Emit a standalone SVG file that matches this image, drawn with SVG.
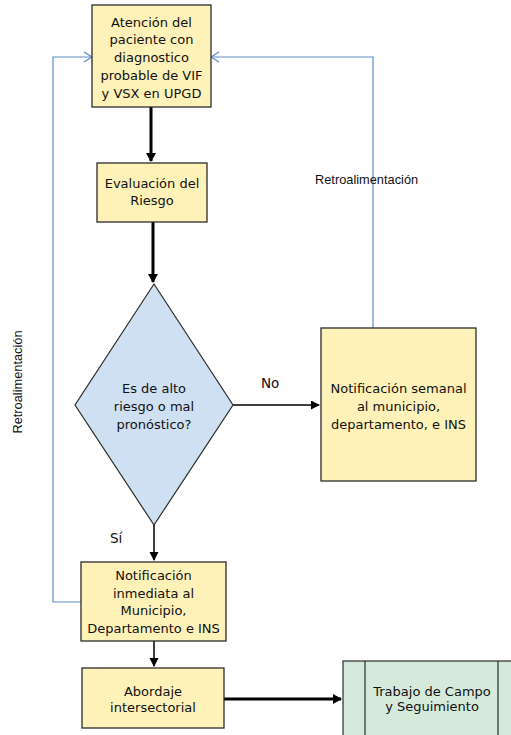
<svg xmlns="http://www.w3.org/2000/svg" width="511" height="735" viewBox="0 0 511 735">
<defs>
<style>
.box{fill:#fff2b8;stroke:#2b2b2b;stroke-width:1.3}
.dia{fill:#cfe0f2;stroke:#2b2b2b;stroke-width:1.2}
.grn{fill:#d6eadb;stroke:#2b2b2b;stroke-width:1.2}
.t{font-family:"DejaVu Sans",Verdana,sans-serif;font-size:13px;fill:#111;text-anchor:middle}
.lbl{font-family:"DejaVu Sans",Verdana,sans-serif;font-size:13.5px;fill:#111}
.small{font-family:"Liberation Sans",Arial,sans-serif;font-size:12.8px;fill:#111}
.thick{stroke:#000;stroke-width:3;fill:none}
.thin{stroke:#000;stroke-width:1.5;fill:none}
.blue{stroke:#5b8bc7;stroke-width:1.2;fill:none}
</style>
<marker id="ah" markerWidth="10" markerHeight="10" refX="8" refY="5" orient="auto" markerUnits="userSpaceOnUse">
<path d="M0,0 L9,5 L0,10 Z" fill="#000"/>
</marker>
<marker id="ahs" markerWidth="10" markerHeight="10" refX="8" refY="4.5" orient="auto" markerUnits="userSpaceOnUse">
<path d="M0,0 L9,4.5 L0,9 Z" fill="#000"/>
</marker>
</defs>
<rect width="511" height="735" fill="#fff"/>

<g id="connectors">
<line class="thick" x1="151" y1="107" x2="151" y2="161" marker-end="url(#ah)"/>
<line class="thick" x1="153" y1="222" x2="153" y2="282" marker-end="url(#ah)"/>
<line class="thin" x1="233" y1="405" x2="319" y2="405" marker-end="url(#ahs)"/>
<line class="thin" x1="154" y1="525" x2="154" y2="560" marker-end="url(#ahs)"/>
<line class="thin" x1="154" y1="641" x2="154" y2="666" marker-end="url(#ahs)"/>
<line class="thick" x1="224" y1="699" x2="341" y2="699" marker-end="url(#ah)"/>
<polyline class="blue" points="81,602 53,602 53,57 92,57"/>
<polyline class="blue" points="84,52 92,57 84,62"/>
<polyline class="blue" points="373,328 373,57 211,57"/>
<polyline class="blue" points="219,52 211,57 219,62"/>
<text class="small" x="315" y="184">Retroalimentación</text>
<text class="small" transform="translate(22,382) rotate(-90)" text-anchor="middle">Retroalimentación</text>
<text class="lbl" x="261" y="388">No</text>
<text class="lbl" x="110" y="543">Sí</text>
</g>

<g id="n1">
<rect class="box" x="92" y="5" width="119" height="102"/>
<text class="t" x="151.5" y="27">Atención del</text>
<text class="t" x="151.5" y="44">paciente con</text>
<text class="t" x="151.5" y="62">diagnostico</text>
<text class="t" x="151.5" y="80">probable de VIF</text>
<text class="t" x="151.5" y="98">y VSX  en UPGD</text>
</g>

<g id="n2">
<rect class="box" x="97" y="163" width="110" height="59"/>
<text class="t" x="152" y="188">Evaluación del</text>
<text class="t" x="152" y="205">Riesgo</text>
</g>

<g id="n3">
<polygon class="dia" points="154,284 233,405 154,525 75,405"/>
<text class="t" x="154" y="393">Es de alto</text>
<text class="t" x="154" y="411">riesgo o mal</text>
<text class="t" x="154" y="429">pronóstico?</text>
</g>

<g id="n4">
<rect class="box" x="321" y="328" width="155" height="153"/>
<text class="t" x="398.5" y="393">Notificación semanal</text>
<text class="t" x="398.5" y="411">al municipio,</text>
<text class="t" x="398.5" y="429">departamento, e INS</text>
</g>

<g id="n5">
<rect class="box" x="81" y="562" width="145" height="79"/>
<text class="t" x="153.5" y="580">Notificación</text>
<text class="t" x="153.5" y="598">inmediata al</text>
<text class="t" x="153.5" y="615">Municipio,</text>
<text class="t" x="153.5" y="633">Departamento e INS</text>
</g>

<g id="n6">
<rect class="box" x="82" y="668" width="142" height="60"/>
<text class="t" x="153" y="696">Abordaje</text>
<text class="t" x="153" y="712">intersectorial</text>
</g>

<g id="n7">
<rect class="grn" x="343" y="661" width="180" height="90"/>
<line stroke="#2b2b2b" stroke-width="1.2" x1="365" y1="661" x2="365" y2="751"/>
<line stroke="#2b2b2b" stroke-width="1.2" x1="498" y1="661" x2="498" y2="751"/>
<text class="t" x="432" y="696">Trabajo de Campo</text>
<text class="t" x="432" y="711">y Seguimiento</text>
</g>
</svg>
